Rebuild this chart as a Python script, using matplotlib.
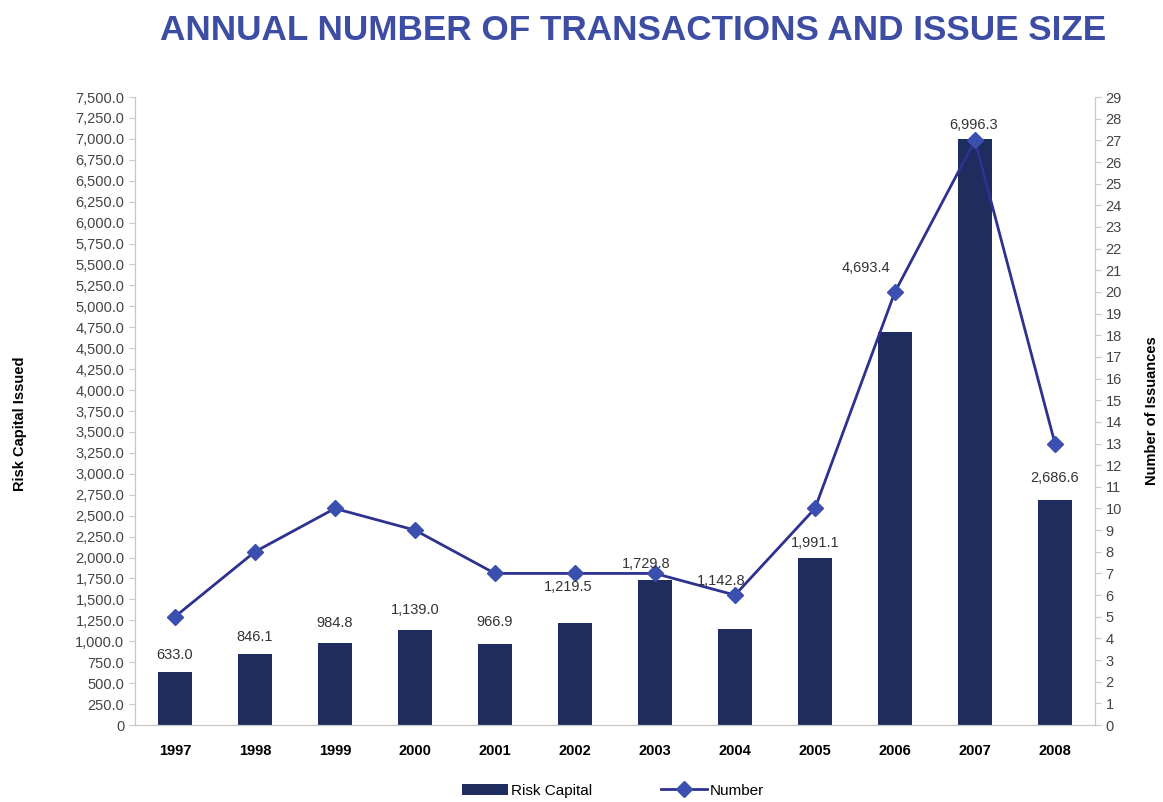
import numpy as np
import matplotlib.pyplot as plt
from matplotlib.ticker import FuncFormatter

#%% data
years = ['1997', '1998', '1999', '2000', '2001', '2002',
         '2003', '2004', '2005', '2006', '2007', '2008']
risk_capital = [633.0, 846.1, 984.8, 1139.0, 966.9, 1219.5,
                1729.8, 1142.8, 1991.1, 4693.4, 6996.3, 2686.6]
issuances = [5, 8, 10, 9, 7, 7, 7, 6, 10, 20, 27, 13]

# label offsets in points (dx, dy) from bar top, to mimic the excel placement
label_offsets = [(0, 12), (0, 12), (0, 14), (0, 14), (0, 16), (-5, 26),
                 (-6, 12), (-10, 35), (0, 11), (-21, 46), (-1, 10), (0, 16)]

bar_color = '#1f2c5e'
line_color = '#2e3190'
marker_color = '#3b4fae'
grey = '#c8c8c8'
font = ['Liberation Sans', 'DejaVu Sans']
plt.rcParams['font.family'] = font

fig = plt.figure(figsize=(11.63, 8.02), dpi=100)
ax = fig.add_axes([0.116, 0.096, 0.8255, 0.783])
ax2 = ax.twinx()

x = np.arange(len(years))
bars = ax.bar(x, risk_capital, width=0.42, color=bar_color, label='Risk Capital', zorder=2)
ax2.plot(x, issuances, color=line_color, lw=2, marker='D', markersize=8,
         markerfacecolor=marker_color, markeredgecolor=marker_color, label='Number', zorder=3)

#%% value labels
for xi, v, off in zip(x, risk_capital, label_offsets):
    ax2.annotate('{:,.1f}'.format(v), xy=(xi, v * 29 / 7500.0), xytext=off,
                 textcoords='offset points', ha='center', va='center',
                 fontsize=10.5, color='#333333', zorder=5)

#%% axes
ax.set_xlim(-0.5, 11.5)
ax.set_ylim(0, 7500)
ax2.set_ylim(0, 29)
ax.set_yticks(np.arange(0, 7501, 250))
ax2.set_yticks(np.arange(0, 30, 1))
ax.yaxis.set_major_formatter(FuncFormatter(lambda v, p: '0' if v == 0 else '{:,.1f}'.format(v)))
ax.set_xticks(x)
ax.set_xticklabels(years, fontweight='bold', fontsize=10.5)
ax.tick_params(axis='x', length=0, pad=14)
ax.tick_params(axis='y', labelsize=10.5, colors=grey, labelcolor='#444444', length=4)
ax2.tick_params(axis='y', labelsize=10.5, colors=grey, labelcolor='#444444', length=4)

for a in (ax, ax2):
    for s in a.spines.values():
        s.set_color(grey)
    a.spines['top'].set_visible(False)

ax.set_ylabel('Risk Capital Issued', fontweight='bold', fontsize=10.5)
ax2.set_ylabel('Number of Issuances', fontweight='bold', fontsize=10.5)
ax.yaxis.set_label_coords(-0.112, 0.48)
ax2.yaxis.set_label_coords(1.052, 0.5)

#%% title and legend
fig.text(0.544, 0.962, 'ANNUAL NUMBER OF TRANSACTIONS AND ISSUE SIZE',
         ha='center', va='center', fontsize=25.3, fontweight='bold', color='#3c4da3')

h1, l1 = ax.get_legend_handles_labels()
h2, l2 = ax2.get_legend_handles_labels()
fig.legend(h1 + h2, l1 + l2, loc='center', bbox_to_anchor=(0.527, 0.014), ncol=2,
           frameon=False, fontsize=11, columnspacing=4.5, handlelength=3.0,
           handletextpad=0.2, borderpad=0.1)

plt.savefig('out.png', dpi=100)
